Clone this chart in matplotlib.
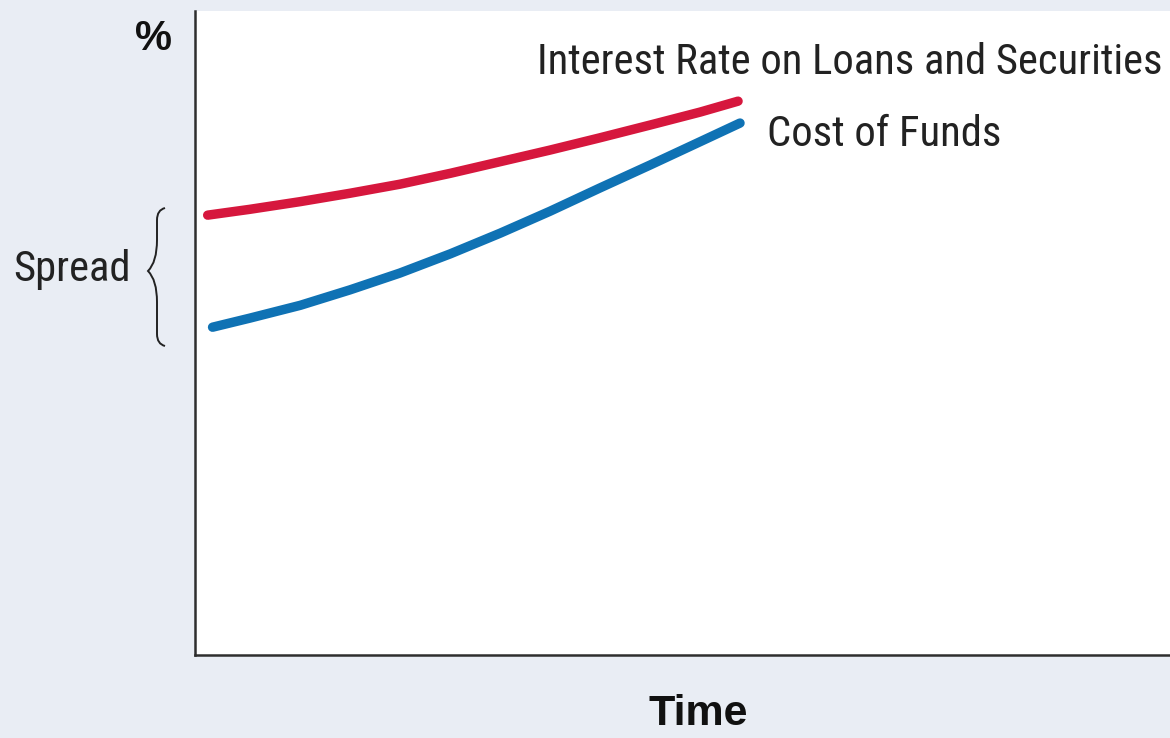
import matplotlib
matplotlib.use("Agg")
import matplotlib.pyplot as plt
from matplotlib.path import Path
from matplotlib.patches import PathPatch

# Daten (Achsen 0-10 ohne Skala)
rate_x = [0.13, 0.56, 1.08, 1.59, 2.10, 2.62, 3.13, 3.64, 4.15, 4.67, 5.18, 5.57]
rate_y = [6.83, 6.92, 7.04, 7.17, 7.31, 7.48, 7.66, 7.84, 8.03, 8.23, 8.43, 8.60]
cost_x = [0.18, 0.56, 1.08, 1.59, 2.10, 2.62, 3.13, 3.64, 4.15, 4.67, 5.18, 5.59]
cost_y = [5.09, 5.23, 5.43, 5.67, 5.93, 6.23, 6.55, 6.89, 7.25, 7.61, 7.97, 8.26]

rate_label = "Interest Rate on Loans and Securities"
cost_label = "Cost of Funds"
spread_label = "Spread"
y_label = "%"
x_label = "Time"

BG = "#e9edf4"
RED = "#d6173d"
BLUE = "#0f72b4"
INK = "#222222"
LABEL_FONT = ["Roboto Condensed", "DejaVu Sans"]
BOLD_FONT = ["Liberation Sans", "DejaVu Sans"]

W, H = 1170, 738
fig = plt.figure(figsize=(W / 100, H / 100), dpi=100, facecolor=BG)
ax = fig.add_axes([195 / W, 1 - 655 / H, 975 / W, 644 / H])
ax.set_facecolor("white")

ax.plot(rate_x, rate_y, color=RED, lw=6.8, solid_capstyle="round")
ax.plot(cost_x, cost_y, color=BLUE, lw=6.8, solid_capstyle="round")

ax.set_xlim(0, 10)
ax.set_ylim(0, 10)
ax.set_xticks([])
ax.set_yticks([])
for s in ["top", "right"]:
    ax.spines[s].set_visible(False)
for s in ["left", "bottom"]:
    ax.spines[s].set_color("#2e2e2e")
    ax.spines[s].set_linewidth(1.8)


# Beschriftungen in Pixelkoordinaten (von oben links)
def fx(px):
    return px / W


def fy(py):
    return 1 - py / H


fig.text(fx(537), fy(62), rate_label, family=LABEL_FONT, fontsize=30.7,
         color=INK, ha="left", va="center")
fig.text(fx(767), fy(135), cost_label, family=LABEL_FONT, fontsize=30.7,
         color=INK, ha="left", va="center")
fig.text(fx(131), fy(270), spread_label, family=LABEL_FONT, fontsize=30.7,
         color=INK, ha="right", va="center")
fig.text(fx(153), fy(39), y_label, family=BOLD_FONT, fontweight="bold",
         fontsize=30, color="#111111", ha="center", va="center")
fig.text(fx(698), fy(714), x_label, family=BOLD_FONT, fontweight="bold",
         fontsize=31, color="#111111", ha="center", va="center")

# geschweifte Klammer
bx = [165, 157, 157, 157, 157, 148, 157, 157, 157, 157, 165]
by = [208, 210, 220, 240, 262, 271, 280, 302, 334, 344, 346]
verts = [(fx(x), fy(y)) for x, y in zip(bx, by)]
codes = [Path.MOVETO, Path.CURVE3, Path.CURVE3, Path.LINETO, Path.CURVE3,
         Path.CURVE3, Path.CURVE3, Path.CURVE3, Path.LINETO, Path.CURVE3, Path.CURVE3]
brace = PathPatch(Path(verts, codes), transform=fig.transFigure, fill=False,
                  edgecolor=INK, lw=1.4)
fig.patches.append(brace)

fig.savefig("out.png", dpi=100, facecolor=BG)
